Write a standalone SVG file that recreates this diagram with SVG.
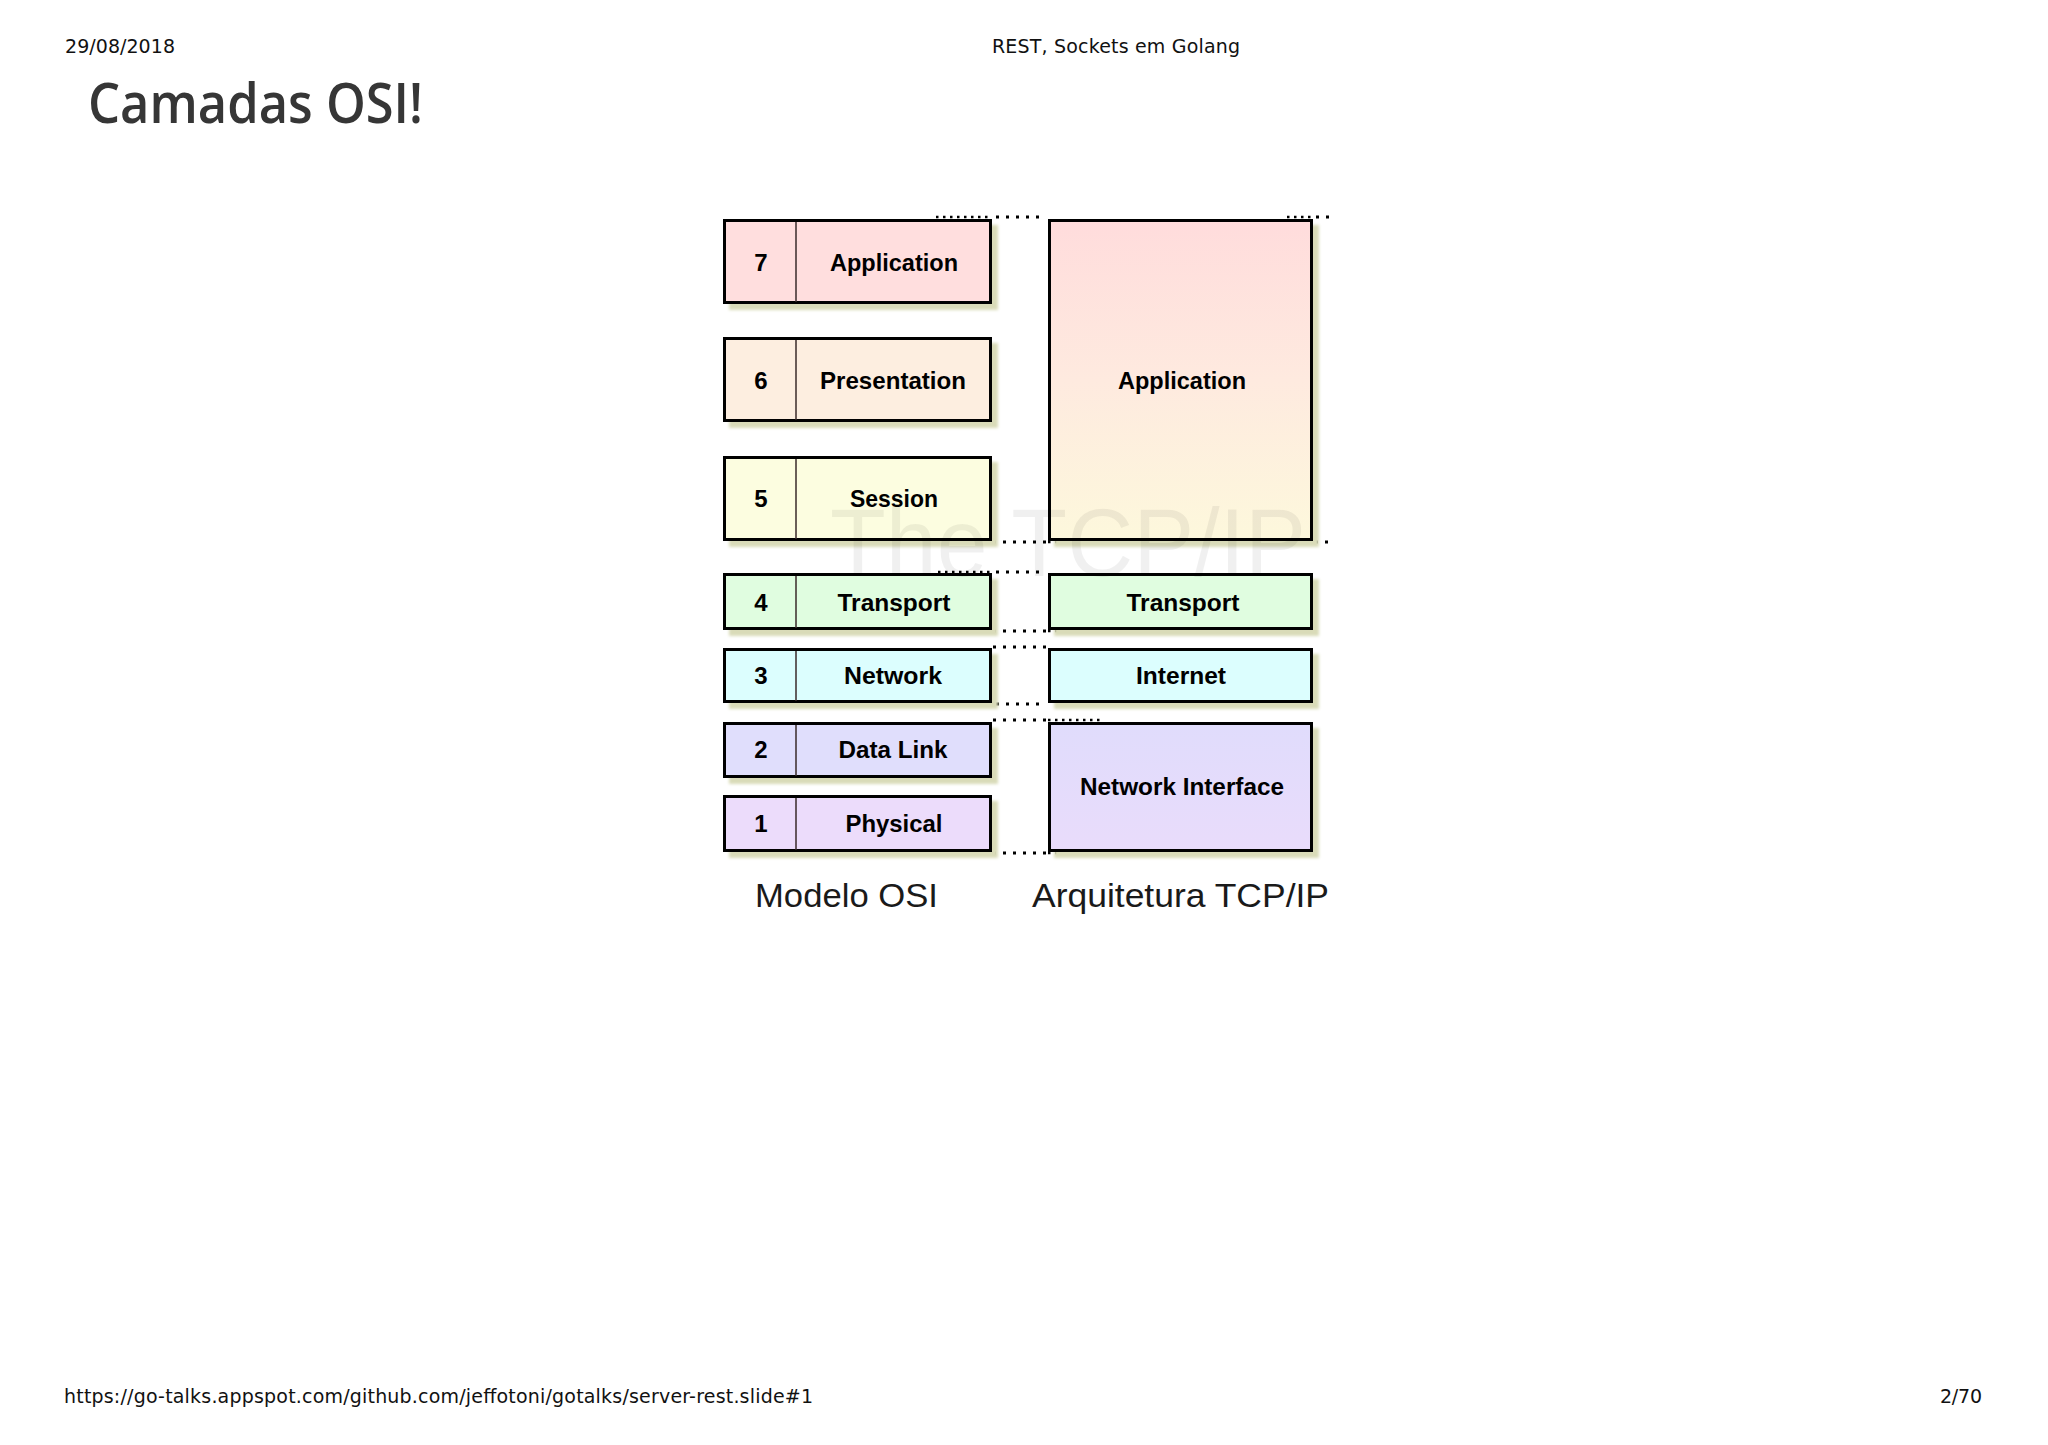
<svg xmlns="http://www.w3.org/2000/svg" width="2048" height="1445" viewBox="0 0 2048 1445">
<style>
.hdr{font-family:"DejaVu Sans",sans-serif;font-size:19px;fill:#111}
.title{font-family:"Open Sans","Noto Sans",sans-serif;font-weight:600;font-size:56px;fill:#363636}
.box{stroke:#000;stroke-width:3}
.div{stroke:#3a2a2a;stroke-width:1.5}
.shadow{fill:#d9dbb8}
.lbl{font-family:"Liberation Sans",Arial,sans-serif;font-weight:bold;font-size:24px;fill:#000;text-anchor:middle}
.cap{font-family:"Liberation Sans",Arial,sans-serif;font-size:33px;fill:#1a1a1a}
.dot{stroke:#000;stroke-width:3;stroke-dasharray:3 7;fill:none}
.dotd{stroke:#000;stroke-width:2.5;stroke-dasharray:2.5 4.5;fill:none}
</style>
<defs>
<linearGradient id="gApp" x1="0" y1="0" x2="0" y2="1">
<stop offset="0" stop-color="#ffdcdc"/>
<stop offset="0.5" stop-color="#feeadf"/>
<stop offset="1" stop-color="#fdf8dc"/>
</linearGradient>
<linearGradient id="gNI" x1="0" y1="0" x2="0" y2="1">
<stop offset="0" stop-color="#e0dcfc"/>
<stop offset="1" stop-color="#e9dcfb"/>
</linearGradient>
<filter id="blur" x="-10%" y="-10%" width="120%" height="130%"><feGaussianBlur stdDeviation="1.5"/></filter>
</defs>
<rect width="2048" height="1445" fill="#fff"/>

<text class="hdr" x="65" y="53" textLength="110">29/08/2018</text>
<text class="hdr" x="1116" y="53" text-anchor="middle" textLength="248">REST, Sockets em Golang</text>
<text class="title" x="88" y="123" textLength="335" lengthAdjust="spacingAndGlyphs">Camadas OSI!</text>
<text class="hdr" x="64" y="1403" textLength="749">https://go-talks.appspot.com/github.com/jeffotoni/gotalks/server-rest.slide#1</text>
<text class="hdr" x="1940" y="1403" textLength="42">2/70</text>

<g id="connectors">
<line class="dotd" x1="936" y1="217" x2="992" y2="217"/>
<line class="dot" x1="996" y1="217" x2="1046" y2="217"/>
<line class="dotd" x1="1287" y1="217" x2="1313" y2="217"/>
<line class="dot" x1="1316" y1="217" x2="1334" y2="217"/>
<line class="dot" x1="993" y1="542" x2="1046" y2="542"/>
<line class="dotd" x1="1048" y1="542" x2="1104" y2="542"/>
<line class="dot" x1="1315" y1="542" x2="1332" y2="542"/>
<line class="dotd" x1="938" y1="572" x2="992" y2="572"/>
<line class="dot" x1="996" y1="572" x2="1046" y2="572"/>
<line class="dot" x1="993" y1="631" x2="1046" y2="631"/>
<line class="dotd" x1="1048" y1="631" x2="1104" y2="631"/>
<line class="dot" x1="993" y1="647" x2="1046" y2="647"/>
<line class="dotd" x1="938" y1="704" x2="992" y2="704"/>
<line class="dot" x1="996" y1="704" x2="1046" y2="704"/>
<line class="dot" x1="993" y1="720" x2="1046" y2="720"/>
<line class="dotd" x1="1048" y1="720" x2="1104" y2="720"/>
<line class="dot" x1="993" y1="853" x2="1046" y2="853"/>
<line class="dotd" x1="1048" y1="853" x2="1104" y2="853"/>
</g>

<g id="osi7">
<rect class="shadow" x="729" y="225" width="269" height="85" filter="url(#blur)"/>
<rect class="box" x="724.5" y="220.5" width="266" height="82" fill="#ffdede"/>
<line class="div" x1="796" y1="222" x2="796" y2="302"/>
<text class="lbl" x="761" y="271">7</text>
<text class="lbl" x="894" y="271" textLength="128" lengthAdjust="spacingAndGlyphs">Application</text>
</g>
<g id="osi6">
<rect class="shadow" x="729" y="343" width="269" height="85" filter="url(#blur)"/>
<rect class="box" x="724.5" y="338.5" width="266" height="82" fill="#fdeee0"/>
<line class="div" x1="796" y1="340" x2="796" y2="420"/>
<text class="lbl" x="761" y="389">6</text>
<text class="lbl" x="893" y="389" textLength="146" lengthAdjust="spacingAndGlyphs">Presentation</text>
</g>
<g id="osi5">
<rect class="shadow" x="729" y="462" width="269" height="85" filter="url(#blur)"/>
<rect class="box" x="724.5" y="457.5" width="266" height="82" fill="#fcfde0"/>
<line class="div" x1="796" y1="459" x2="796" y2="539"/>
<text class="lbl" x="761" y="507">5</text>
<text class="lbl" x="894" y="507" textLength="88" lengthAdjust="spacingAndGlyphs">Session</text>
</g>
<g id="osi4">
<rect class="shadow" x="729" y="579" width="269" height="57" filter="url(#blur)"/>
<rect class="box" x="724.5" y="574.5" width="266" height="54" fill="#e0fde0"/>
<line class="div" x1="796" y1="576" x2="796" y2="628"/>
<text class="lbl" x="761" y="611">4</text>
<text class="lbl" x="894" y="611" textLength="113" lengthAdjust="spacingAndGlyphs">Transport</text>
</g>
<g id="osi3">
<rect class="shadow" x="729" y="654" width="269" height="55" filter="url(#blur)"/>
<rect class="box" x="724.5" y="649.5" width="266" height="52" fill="#dcfefe"/>
<line class="div" x1="796" y1="651" x2="796" y2="701"/>
<text class="lbl" x="761" y="684">3</text>
<text class="lbl" x="893" y="684" textLength="98" lengthAdjust="spacingAndGlyphs">Network</text>
</g>
<g id="osi2">
<rect class="shadow" x="729" y="728" width="269" height="56" filter="url(#blur)"/>
<rect class="box" x="724.5" y="723.5" width="266" height="53" fill="#e0defc"/>
<line class="div" x1="796" y1="725" x2="796" y2="776"/>
<text class="lbl" x="761" y="758">2</text>
<text class="lbl" x="893" y="758" textLength="109" lengthAdjust="spacingAndGlyphs">Data Link</text>
</g>
<g id="osi1">
<rect class="shadow" x="729" y="801" width="269" height="57" filter="url(#blur)"/>
<rect class="box" x="724.5" y="796.5" width="266" height="54" fill="#ecdcfb"/>
<line class="div" x1="796" y1="798" x2="796" y2="850"/>
<text class="lbl" x="761" y="832">1</text>
<text class="lbl" x="894" y="832" textLength="97" lengthAdjust="spacingAndGlyphs">Physical</text>
</g>

<g id="tcp-app">
<rect class="shadow" x="1054" y="225" width="265" height="322" filter="url(#blur)"/>
<rect class="box" x="1049.5" y="220.5" width="262" height="319" fill="url(#gApp)"/>
<text class="lbl" x="1182" y="389" textLength="128" lengthAdjust="spacingAndGlyphs">Application</text>
</g>
<g id="tcp-transport">
<rect class="shadow" x="1054" y="579" width="265" height="57" filter="url(#blur)"/>
<rect class="box" x="1049.5" y="574.5" width="262" height="54" fill="#e0fde0"/>
<text class="lbl" x="1183" y="611" textLength="113" lengthAdjust="spacingAndGlyphs">Transport</text>
</g>
<g id="tcp-internet">
<rect class="shadow" x="1054" y="654" width="265" height="55" filter="url(#blur)"/>
<rect class="box" x="1049.5" y="649.5" width="262" height="52" fill="#dcfefe"/>
<text class="lbl" x="1181" y="684" textLength="90" lengthAdjust="spacingAndGlyphs">Internet</text>
</g>
<g id="tcp-ni">
<rect class="shadow" x="1054" y="728" width="265" height="130" filter="url(#blur)"/>
<rect class="box" x="1049.5" y="723.5" width="262" height="127" fill="url(#gNI)"/>
<text class="lbl" x="1182" y="795" textLength="204" lengthAdjust="spacingAndGlyphs">Network Interface</text>
</g>

<text x="830" y="576" font-family="Liberation Sans, Arial, sans-serif" font-size="96" fill="#000" fill-opacity="0.06" textLength="476" lengthAdjust="spacingAndGlyphs">The TCP/IP</text>

<text class="cap" x="755" y="907" textLength="183" lengthAdjust="spacingAndGlyphs">Modelo OSI</text>
<text class="cap" x="1032" y="907" textLength="297" lengthAdjust="spacingAndGlyphs">Arquitetura TCP/IP</text>
</svg>
